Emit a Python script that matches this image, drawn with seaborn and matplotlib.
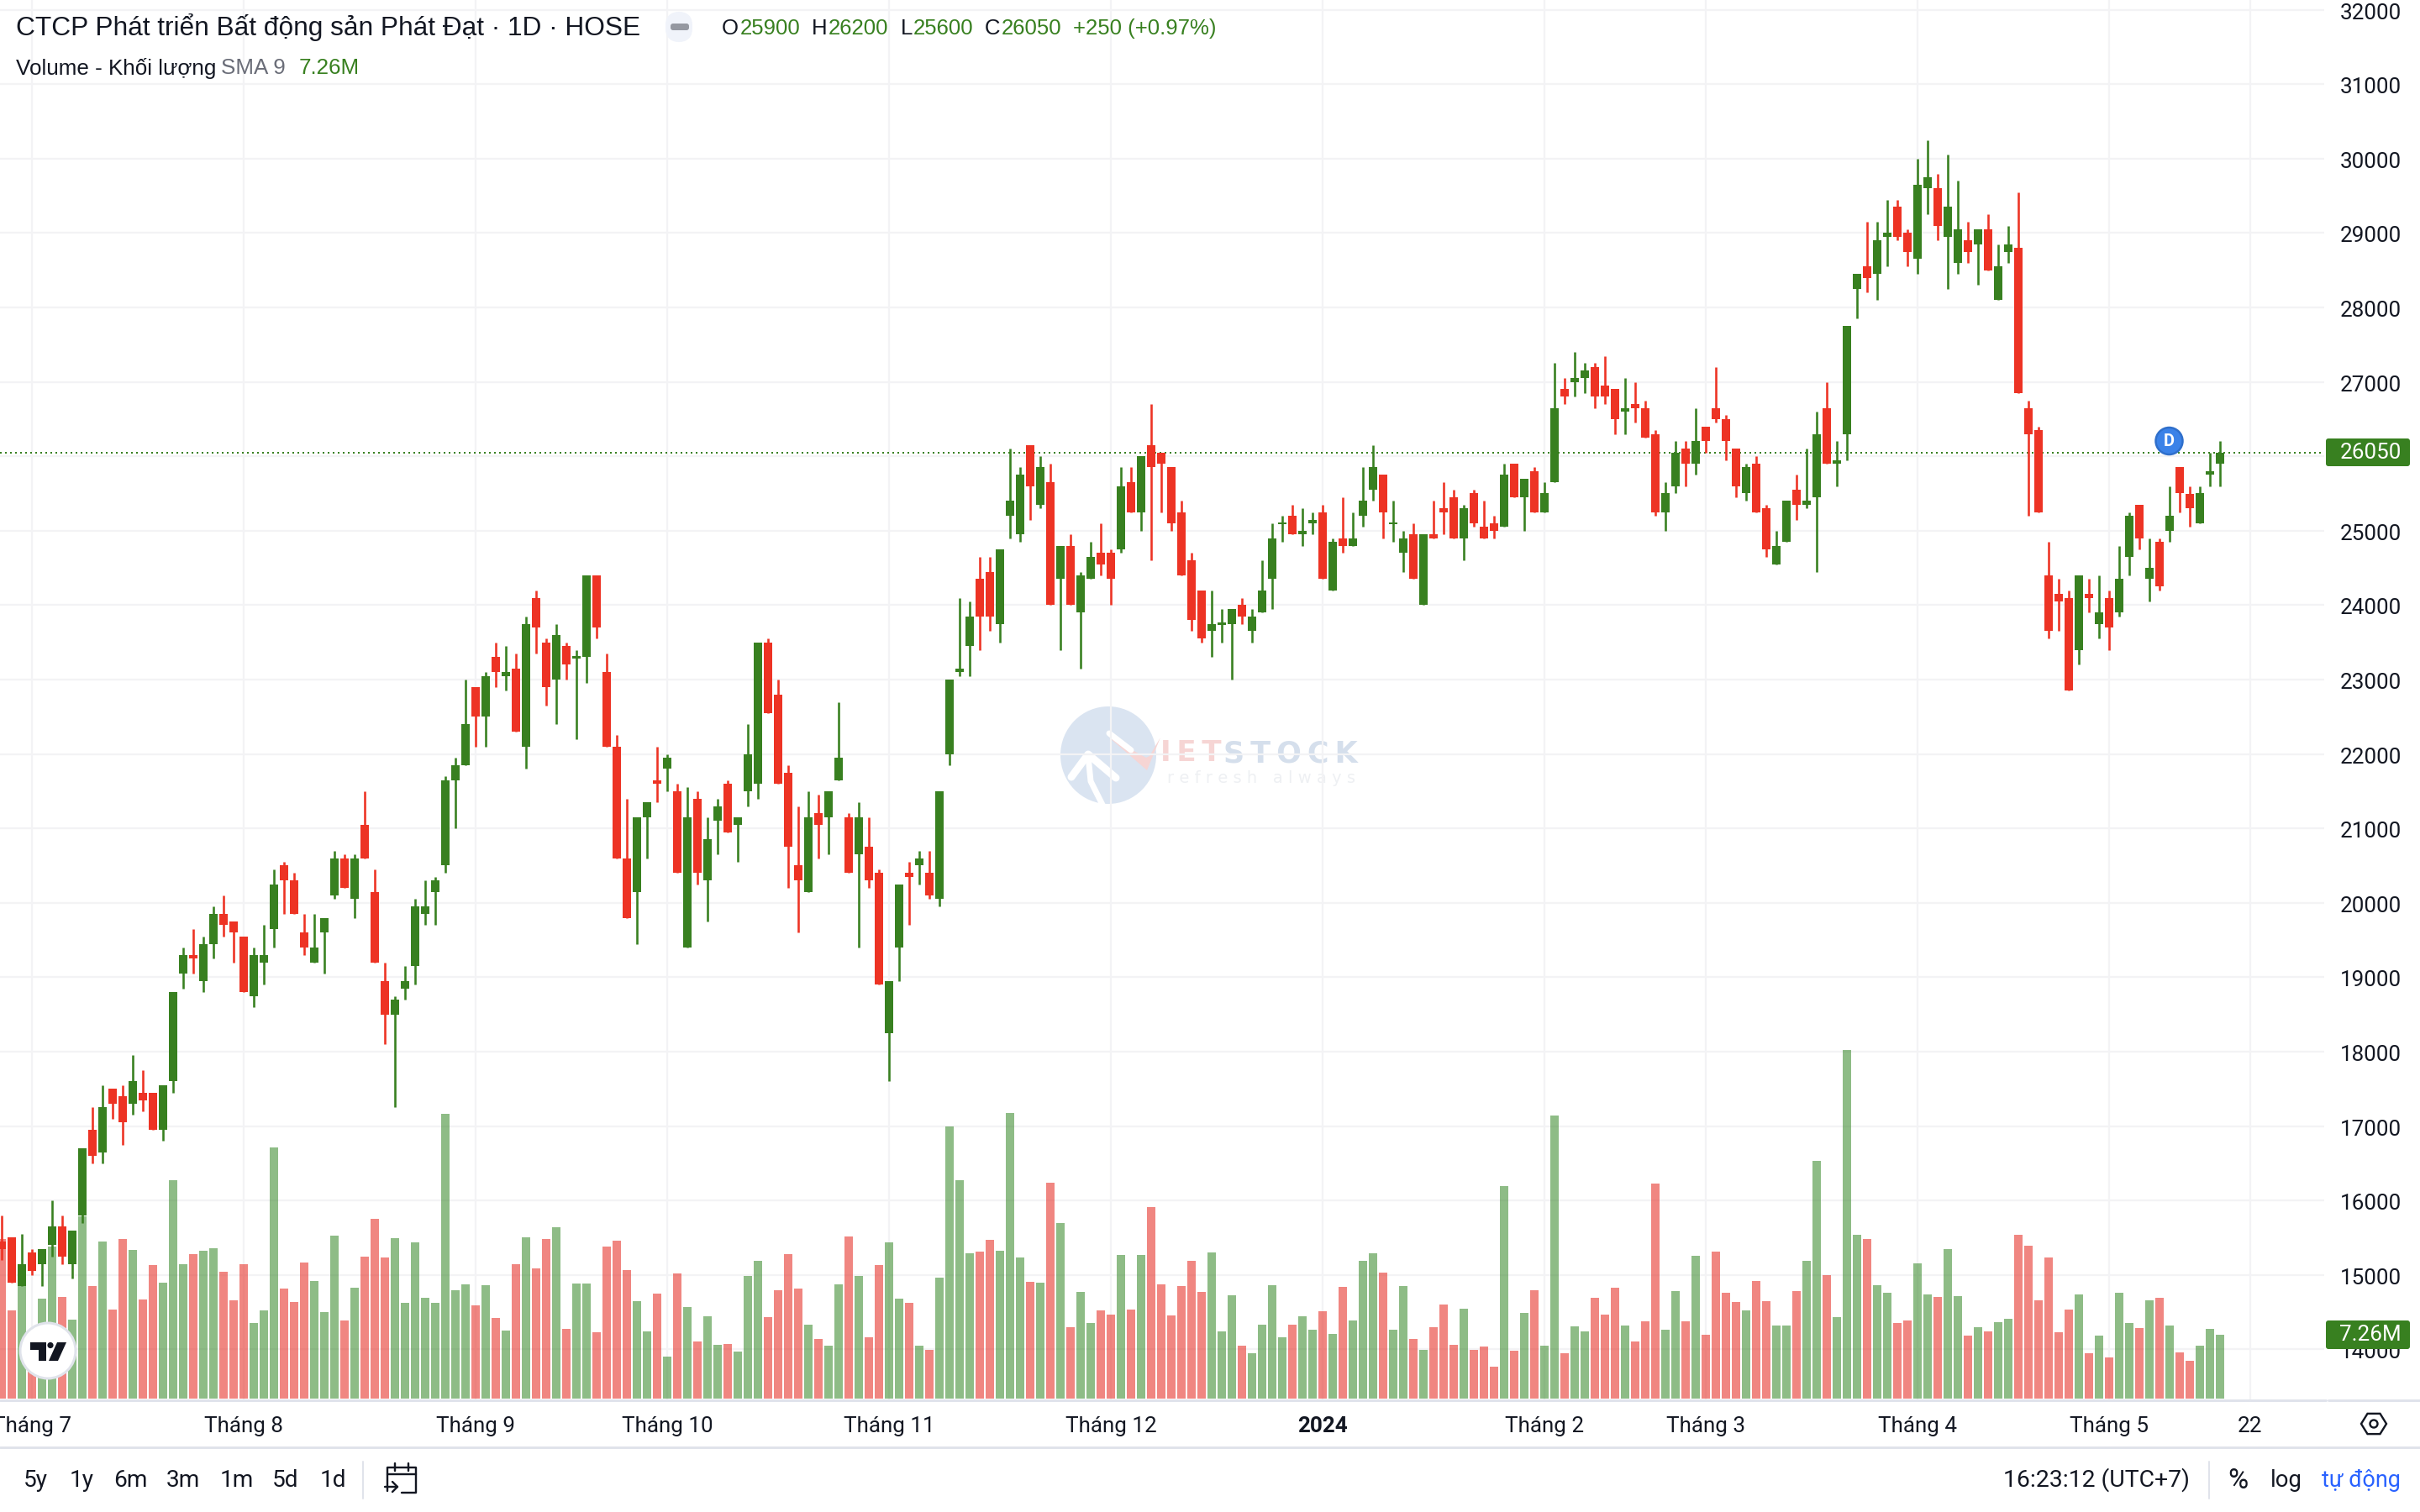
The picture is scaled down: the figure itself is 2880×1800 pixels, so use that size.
import numpy as np
import pandas as pd
import seaborn as sns
import matplotlib
matplotlib.use("Agg")
import matplotlib.pyplot as plt
from matplotlib.patches import Ellipse, Circle, Polygon, FancyBboxPatch
from matplotlib.transforms import ScaledTranslation

opens = [15450,15500,14850,15300,15150,15400,15650,15150,15800,16950,
16650,17500,17400,17300,17450,17450,16950,17600,19050,19300,
18950,19450,19850,19750,19550,18750,19200,19650,20500,20300,
19600,19200,19600,20100,20600,20050,21050,20150,18950,18500,
18850,19150,19850,20150,20500,21650,21850,22900,22500,23300,
23050,23150,22100,24100,23500,23000,23450,23300,23300,24400,
23100,22100,20600,20150,21150,21650,21800,21500,19400,21400,
20300,21100,21600,21050,21500,21600,23500,22800,21750,20500,
20150,21200,21150,21650,21150,20650,20750,20400,18250,19400,
20400,20500,20400,20050,22000,23100,23450,24350,24450,23750,
25200,24950,26150,25350,25650,24350,24800,23900,24350,24700,
24700,24750,25650,25250,26150,26050,25850,25250,24600,24200,
23650,23750,23750,24000,23650,23900,24350,25100,25200,24950,
25100,25250,24200,24900,24800,25200,25550,25750,25100,24700,
24950,24000,24950,25300,25450,24900,25500,25050,25100,25050,
25900,25450,25800,25250,25650,26900,27000,27050,27200,26950,
26900,26600,26700,26650,26300,25250,25600,26100,25900,26400,
26650,26500,26100,25500,25900,25300,24550,24850,25550,25350,
25450,26650,25900,26300,28250,28550,28450,28950,29350,29000,
28650,29600,29600,28950,28600,28900,28850,29050,28100,28750,
28800,26650,26350,24400,24150,24100,23400,24150,23750,24100,
23900,24650,25350,24350,24850,25000,25850,25500,25100,25750,
25900]
highs = [15800,15500,15550,15350,15350,16000,15800,15600,16700,17250,
17550,17500,17550,17950,17750,17450,17550,18800,19400,19650,
19550,19950,20100,19750,19550,19400,19700,20450,20550,20400,
19850,19850,19800,20700,20650,20650,21500,20450,19200,18750,
19150,20050,20300,20350,21700,21950,23000,22900,23100,23500,
23450,23350,23850,24200,23550,23750,23500,23400,24400,24400,
23350,22250,21400,21150,21350,22100,22000,21600,21550,21500,
21150,21400,21650,21150,22400,23500,23550,23000,21850,21300,
21500,21450,21500,22700,21200,21350,21150,20450,18950,20250,
20550,20700,20700,21500,23000,24100,24050,24650,24650,24750,
26100,25850,26150,26000,25900,24800,24950,24450,24850,25100,
24750,25850,25850,26000,26700,26050,25850,25400,24700,24200,
24200,23950,23950,24100,23950,24600,25100,25200,25350,25300,
25250,25350,24900,25450,25250,25850,26150,25750,25400,25000,
25100,24950,25400,25650,25550,25350,25550,25400,25200,25900,
25900,25700,25850,25650,27250,27050,27400,27250,27250,27350,
26900,27050,27000,26750,26350,25650,26200,26200,26650,26400,
27200,26550,26100,25900,26000,25350,25000,25400,25750,26100,
26600,27000,26200,27750,28450,29150,29150,29450,29450,29050,
30000,30250,29800,30050,29700,29150,29050,29250,28850,29100,
29550,26750,26400,24850,24350,24200,24400,24350,24400,24200,
24800,25250,25350,24900,24900,25600,25850,25600,25600,26050,
26200]
lows = [15200,14900,14850,15000,14850,15250,15150,14950,15700,16500,
16500,17100,16750,17150,17200,16950,16800,17450,18850,19050,
18800,19250,19550,19200,18800,18600,18900,19400,19850,19850,
19300,19200,19050,20050,20200,19800,20600,19200,18100,17250,
18700,18900,19700,19700,20400,21000,21850,22100,22100,22900,
22850,22300,21800,23350,22650,22400,23000,22200,22950,23550,
22100,20600,19800,19450,20600,21350,21500,20400,19400,20250,
19750,20650,20950,20550,21300,21400,22550,21600,20200,19600,
20150,20600,20650,21650,20400,19400,20200,18900,17600,18950,
19700,20250,20050,19950,21850,23050,23050,23400,23650,23500,
24900,24850,25150,25300,24000,23400,24000,23150,24350,24400,
24000,24700,25250,25000,24600,25250,25000,24400,23650,23500,
23300,23500,23000,23750,23500,23900,23950,24850,24950,24800,
24950,24350,24200,24700,24800,25050,25400,24900,24850,24450,
24350,24000,24900,24950,24900,24600,25050,24900,24900,25050,
25450,25000,25250,25250,25650,26700,26800,26850,26650,26700,
26300,26300,26450,26250,25200,25000,25500,25600,25750,26050,
26450,25950,25450,25400,25250,24650,24550,24850,25150,25300,
24450,25900,25600,25950,27850,28200,28100,28550,28900,28550,
28450,29250,28900,28250,28450,28600,28300,28500,28100,28600,
26850,25200,25250,23550,23650,22850,23200,23900,23550,23400,
23850,24400,24750,24050,24200,24850,25250,25050,25100,25600,
25600]
closes = [15350,14900,15150,15050,15350,15650,15250,15600,16700,16600,
17250,17300,17050,17600,17350,16950,17550,18800,19300,19250,
19450,19850,19700,19600,18800,19300,19300,20250,20300,19850,
19400,19400,19800,20600,20200,20600,20600,19200,18500,18700,
18950,19950,19950,20300,21650,21850,22400,22500,23050,23100,
23100,22300,23750,23700,22900,23600,23200,23300,24400,23700,
22100,20600,19800,21150,21350,21600,21950,20400,21150,20400,
20850,21300,20950,21150,22000,23500,22550,21600,20750,20300,
21150,21050,21500,21950,20400,21150,20300,18900,18950,20250,
20350,20600,20100,21500,23000,23150,23850,23850,23850,24750,
25400,25750,25600,25850,24000,24800,24000,24400,24650,24550,
24350,25600,25250,26000,25850,25900,25100,24400,23800,23550,
23750,23750,23950,23850,23850,24200,24900,25100,24950,25000,
25150,24350,24850,24800,24900,25400,25850,25250,25100,24900,
24350,24950,24900,25250,24900,25300,25100,24900,25000,25750,
25450,25700,25250,25500,26650,26800,27050,27150,26800,26800,
26500,26650,26650,26250,25250,25500,26050,25900,26200,26200,
26500,26200,25600,25850,25250,24750,24800,25400,25350,25400,
26300,25900,25950,27750,28450,28400,28900,29000,28950,28750,
29650,29750,29100,29350,29050,28750,29050,28500,28550,28850,
26850,26300,25250,23650,24050,22850,24400,24100,23900,23700,
24350,25200,24900,24500,24250,25200,25500,25300,25500,25800,
26050]
volumes_m = [18.13,10.02,13.29,6.48,11.35,17.28,11.55,8.96,20.72,12.78,
17.86,10.12,18.13,16.90,11.25,15.17,13.15,24.81,15.27,16.43,
16.80,17.07,14.42,11.18,15.27,8.59,10.02,28.52,12.51,10.97,
15.47,13.36,9.82,18.51,8.86,12.61,16.12,20.41,16.02,18.23,
10.87,17.76,11.45,10.87,32.34,12.30,12.98,10.60,12.88,9.17,
7.74,15.27,18.34,14.79,18.13,19.46,7.91,13.09,13.09,7.53,
17.28,17.93,14.59,11.08,7.63,11.93,4.77,14.21,10.39,6.48,
9.34,6.10,6.20,5.35,13.94,15.64,9.27,12.30,16.43,12.51,
8.38,6.78,6.00,12.98,18.40,13.94,6.95,15.17,17.76,11.35,
10.87,6.00,5.52,13.73,30.91,24.81,16.49,16.70,18.03,16.80,
32.44,16.02,13.26,13.15,24.54,19.94,8.11,12.13,8.59,10.02,
9.54,16.32,10.12,16.32,21.74,12.98,9.44,12.78,15.64,12.13,
16.60,7.63,11.72,6.00,5.15,8.38,12.88,6.95,8.38,9.34,
7.84,9.92,7.36,12.68,8.86,15.64,16.49,14.31,7.84,12.78,
6.78,5.52,8.11,10.70,6.10,10.22,5.52,5.93,3.61,24.13,
5.45,9.75,12.30,6.00,32.17,5.15,8.21,7.63,11.45,9.54,
12.61,8.32,6.48,8.79,24.44,7.84,12.20,8.79,16.22,7.26,
16.70,12.03,10.97,10.02,13.36,11.08,8.32,8.32,12.20,15.64,
26.99,14.04,9.27,39.60,18.61,18.13,12.88,12.03,8.59,8.86,
15.37,11.83,11.55,16.97,11.66,7.16,8.11,7.63,8.69,9.07,
18.61,17.38,11.18,16.02,7.53,10.12,11.83,5.15,7.16,4.67,
12.03,8.59,8.01,11.18,11.45,8.32,5.25,4.29,6.00,7.91,
7.26]

month_pos = [3, 24, 47, 66, 88, 110, 131, 153, 169, 190, 209, 223]
month_labels = ["Tháng 7", "Tháng 8", "Tháng 9", "Tháng 10", "Tháng 11", "Tháng 12",
                "2024", "Tháng 2", "Tháng 3", "Tháng 4", "Tháng 5", "22"]
price_ticks = list(range(14000, 32001, 1000))
last_price = 26050

GREEN, RED = "#388020", "#ED3324"
VOL_GREEN, VOL_RED = "#39892B", "#E52B22"
INK = "#131722"
W, H = 2880, 1800
PX_PER_PRICE = 0.0886
GRID = "#F3F3F5"
LW = lambda px: px * 0.36

sns.set_theme(style="white")
plt.rcParams["font.family"] = ["Roboto", "DejaVu Sans"]

df = pd.DataFrame({"open": opens, "high": highs, "low": lows, "close": closes, "vol": volumes_m})
df["idx"] = np.arange(len(df))
df["dir"] = np.where(df.close >= df.open, "up", "down")

fig = plt.figure(figsize=(14.4, 9), dpi=200, facecolor="white")
rect = [0, 1 - 1666 / H, 2766 / W, 1666 / H]
xlim = (-2 / 12, (2766 - 2) / 12)
ylim = (30000 - (1666 - 188.8) / PX_PER_PRICE, 30000 + 188.8 / PX_PER_PRICE)

# background decoration (watermark)
bg = fig.add_axes([0, 0, 1, 1], zorder=0)
bg.set_xlim(0, W); bg.set_ylim(H, 0); bg.axis("off")
bg.add_patch(Ellipse((1319, 899), 114, 116, color="#DAE4F1", lw=0))
bg.add_patch(Polygon([(1320, 878), (1365, 917), (1381, 878), (1368, 900), (1364, 902)], color="#F6D5D4", lw=0))
bg.plot([1275, 1295, 1328], [925, 898, 926], color="white", lw=LW(9), solid_capstyle="round")
bg.plot([1295, 1298, 1312], [900, 930, 958], color="white", lw=LW(7), solid_capstyle="round")
bg.plot([1320, 1346], [873, 893], color="white", lw=LW(7), solid_capstyle="round")
bg.text(1381, 897, "I\u2009E\u2009T", color="#F6D5D4", fontsize=34 * .36, fontweight="bold",
        family="DejaVu Sans", va="center", ha="left")
bg.text(1456, 897, "S\u2009T\u2009O\u2009C\u2009K", color="#D5DFEC", fontsize=35 * .36, fontweight="bold",
        family="DejaVu Sans", va="center", ha="left")
bg.text(1389, 926, "r e f r e s h   a l w a y s", color="#EEF0F3", fontsize=19.5 * .36,
        family="DejaVu Sans", va="center", ha="left")

# grid + price scale
ax_g = fig.add_axes(rect, zorder=1)
ax_g.patch.set_alpha(0)
ax_g.set_xlim(*xlim); ax_g.set_ylim(*ylim)
ax_g.set_yticks(price_ticks)
ax_g.set_yticklabels(["" if t == 26000 else str(t) for t in price_ticks])
ax_g.yaxis.tick_right()
ax_g.set_xticks(month_pos)
ax_g.set_xticklabels(month_labels)
ax_g.grid(True, color=GRID, lw=LW(2.2))
ax_g.set_axisbelow(True)
ax_g.tick_params(axis="y", length=0, pad=19 * .36, labelsize=26 * .36, labelcolor=INK)
ax_g.tick_params(axis="x", length=0, pad=20 * .36, labelsize=26 * .36, labelcolor=INK)
for lb in ax_g.get_xticklabels():
    if lb.get_text() == "2024":
        lb.set_fontweight("bold")
shift = ScaledTranslation(0, -1.5 / 200, fig.dpi_scale_trans)
for tick in ax_g.yaxis.get_major_ticks():
    tick.label2.set_transform(tick.label2.get_transform() + shift)
for s in ax_g.spines.values():
    s.set_visible(False)

# volume pane
axv = fig.add_axes([0, 1 - 1665 / H, 2766 / W, 1665 / H], zorder=2)
axv.patch.set_alpha(0)
sns.barplot(data=df, x="idx", y="vol", hue="dir", hue_order=["up", "down"],
            palette={"up": VOL_GREEN, "down": VOL_RED}, native_scale=True, dodge=False,
            width=10 / 12, saturation=1, alpha=0.57, legend=False, linewidth=0, ax=axv)
axv.set_xlim(*xlim)
axv.set_ylim(0, 1665 * 0.09542)
axv.axis("off")

# candles
ax = fig.add_axes(rect, zorder=3)
ax.patch.set_alpha(0)
colors = df.dir.map({"up": GREEN, "down": RED})
ax.vlines(df.idx, df.low, df.high, colors=colors, lw=LW(2.6), zorder=2)
tops = df[["open", "close"]].max(axis=1)
bots = df[["open", "close"]].min(axis=1)
heights = (tops - bots).clip(lower=25)
ax.bar(df.idx, heights, bottom=bots - (heights - (tops - bots)) / 2, width=10 / 12, color=colors, lw=0, zorder=3)
ax.axhline(last_price, color=GREEN, lw=LW(2), linestyle=(0, (1, 2)), zorder=1)
ax.set_xlim(*xlim); ax.set_ylim(*ylim)
ax.axis("off")

# foreground chrome in reference pixels
fg = fig.add_axes([0, 0, 1, 1], zorder=5)
fg.patch.set_alpha(0)
fg.set_xlim(0, W); fg.set_ylim(H, 0); fg.axis("off")

def T(x, y, s, px=26, color=INK, ha="left", family="Roboto", **kw):
    return fg.text(x, y, s, fontsize=px * .36, color=color, ha=ha, va="center", family=family, **kw)

LIB = "Liberation Sans"
fg.plot([0, 2768], [1667, 1667], color="#E0E3EB", lw=LW(3))
fg.plot([2771, W], [1667, 1667], color="#E0E3EB", lw=LW(3))
fg.plot([0, W], [1723, 1723], color="#E0E3EB", lw=LW(3))

# legend header
T(19, 33, "CTCP Phát triển Bất động sản Phát Đạt · 1D · HOSE", 31.6, family=LIB)
T(19, 81, "Volume - Khối lượng", 26, family=LIB)
T(263, 81, "SMA 9", 26, color="#6A6D78", family=LIB)
T(356, 81, "7.26M", 26, color=GREEN, family=LIB)
fg.add_patch(FancyBboxPatch((796, 18), 24, 28, boxstyle="round,pad=0,rounding_size=12", fc="#F0F3FA", ec="#F0F3FA", lw=LW(8)))
fg.add_patch(FancyBboxPatch((798, 28), 22, 8, boxstyle="round,pad=0,rounding_size=3", fc="#9598A1", lw=0))
for xl, letter, xv, val in [(859, "O", 881, "25900"), (966, "H", 986, "26200"),
                            (1072, "L", 1087, "25600"), (1172, "C", 1192, "26050")]:
    T(xl, 34, letter, 25.7, family=LIB)
    T(xv, 34, val, 25.7, color=GREEN, family=LIB)
T(1277, 34, "+250 (+0.97%)", 25.7, color=GREEN, family=LIB)

# price tags
fg.add_patch(FancyBboxPatch((2768, 522), 100, 33, boxstyle="round,pad=0,rounding_size=3", fc=GREEN, lw=0))
T(2821, 539, "26050", 26, color="white", ha="center")
fg.add_patch(FancyBboxPatch((2768, 1572), 100, 34, boxstyle="round,pad=0,rounding_size=3", fc=GREEN, lw=0))
T(2821, 1589, "7.26M", 26, color="white", ha="center")

# dividend marker
fg.add_patch(Circle((2581.5, 525), 16, fc="#3B82E8", ec="#2F6FCB", lw=LW(2.5)))
T(2581.5, 525.5, "D", 20, color="white", ha="center", fontweight="bold")

# TradingView badge
fg.add_patch(Ellipse((57, 1608), 66, 66, fc="white", ec="#E0E3EB", lw=LW(3)))
fg.add_patch(Polygon([(36, 1598), (55, 1598), (55, 1620), (46, 1620), (46, 1607), (36, 1607)], fc=INK, lw=0))
fg.add_patch(Circle((60, 1601.5), 3.6, fc=INK, lw=0))
fg.add_patch(Polygon([(68, 1598), (79, 1598), (69, 1620), (58, 1620)], fc=INK, lw=0))

# range buttons
for x, s in [(28, "5y"), (83, "1y"), (135, "6m"), (198, "3m"), (262, "1m"), (324, "5d"), (381, "1d")]:
    T(x, 1763, s, 28)
fg.plot([432, 432], [1740, 1784], color="#E0E3EB", lw=LW(2))
fg.plot([461, 461, 495, 495, 478], [1775, 1747, 1747, 1777, 1777], color=INK, lw=LW(2.4))
fg.plot([461, 495], [1755, 1755], color=INK, lw=LW(2.4))
fg.plot([470, 470], [1742, 1751], color=INK, lw=LW(2.4))
fg.plot([486, 486], [1742, 1751], color=INK, lw=LW(2.4))
fg.plot([458, 473], [1770, 1770], color=INK, lw=LW(2.4))
fg.plot([467, 473, 467], [1764, 1770, 1776], color=INK, lw=LW(2.4))

T(2384, 1762, "16:23:12 (UTC+7)", 28.4)
fg.plot([2629, 2629], [1740, 1784], color="#E0E3EB", lw=LW(2))
T(2651, 1763, "%", 33)
T(2702, 1763, "log", 27.5)
T(2763, 1763, "tự động", 27, color="#2962FF")

# settings icon
ang = np.deg2rad([0, 60, 120, 180, 240, 300])
fg.add_patch(Polygon(np.c_[2825 + 15 * np.cos(ang), 1695 + 14 * np.sin(ang)], fc="none", ec=INK, lw=LW(2.4)))
fg.add_patch(Circle((2825, 1695), 4.5, fc="none", ec=INK, lw=LW(2.4)))

fig.savefig("out.png", dpi=200)
